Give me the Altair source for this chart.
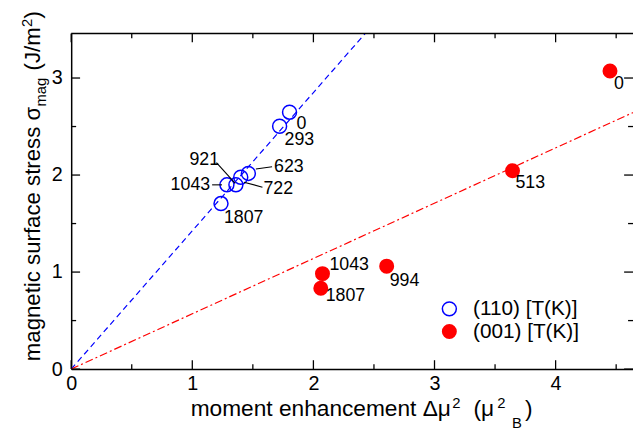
import altair as alt
import pandas as pd

# ---------------- data ----------------
x110 = [1.803, 1.721, 1.463, 1.400, 1.360, 1.286, 1.237]
y110 = [2.648, 2.503, 2.017, 1.977, 1.899, 1.899, 1.706]
t110 = ["0", "293", "623", "722", "921", "1043", "1807"]

x001 = [4.449, 3.644, 2.605, 2.075, 2.061]
y001 = [3.072, 2.045, 1.061, 0.984, 0.834]
t001 = ["0", "513", "994", "1043", "1807"]

fit110_x = [0.0, 2.6]
fit110_y = [0.0, 3.705]
fit001_x = [0.0, 4.7]
fit001_y = [0.0, 2.679]

x_major = [0, 1, 2, 3, 4]
x_minor = [0.5, 1.5, 2.5, 3.5, 4.5]
y_major = [0, 1, 2, 3]
y_minor = [0.5, 1.5, 2.5]

legend_labels = ["(110) [T(K)]", "(001) [T(K)]"]

# ---------------- style / layout ----------------
FONT = "Liberation Sans"
BLUE = "#0000ff"
RED = "#ff0000"
W, H = 569, 340
XMAX, YMAX = 4.639, 3.46
OX, OY = 72, 31  # page position of plot origin

# label offsets (pixels) and alignment
lab110_dx = [7, 5, 26, 23, -17, -17, 3]
lab110_dy = [12, 14, -6, 12, -25, 0, 15]
lab110_right = [False, False, False, False, True, True, False]
lab001_dx = [4, 3, 3, 7, 5]
lab001_dy = [13, 13, 15, -9, 8]
leaders = {  # label: ((dx1, dy1), (dx2, dy2))
    "623": ((7.6, -4.4), (24, -6.7)),
    "722": ((3.3, 5), (22, 10)),
    "921": ((-19.7, -22.6), (-0.7, -1.6)),
    "1043": ((-15, 0), (-5, 0)),
}

xs = alt.Scale(domain=[0, XMAX], nice=False, zero=False)
ys = alt.Scale(domain=[0, YMAX], nice=False, zero=False)
xaxis = alt.Axis(values=x_major, title=None, grid=False, ticks=False, tickSize=0,
                 labelFont=FONT, labelFontSize=20, labelColor="black", labelPadding=5,
                 domainColor="black", domainWidth=1.5, labelFlush=False,
                 labelOverlap=False, format="d")
yaxis = alt.Axis(values=y_major, title=None, grid=False, ticks=False, tickSize=0,
                 labelFont=FONT, labelFontSize=20, labelColor="black", labelPadding=9,
                 domainColor="black", domainWidth=1.5, labelFlush=False,
                 labelOverlap=False, format="d")


def X(f):
    return alt.X(f, type="quantitative", scale=xs, axis=xaxis)


def Y(f):
    return alt.Y(f, type="quantitative", scale=ys, axis=yaxis)


one = pd.DataFrame({"a": [0]})

df110 = pd.DataFrame({"x": x110, "y": y110, "t": t110})
df001 = pd.DataFrame({"x": x001, "y": y001, "t": t001})
fit110 = pd.DataFrame({"x": fit110_x, "y": fit110_y})
fit001 = pd.DataFrame({"x": fit001_x, "y": fit001_y})

layers = []

# fit lines
layers.append(alt.Chart(fit110).mark_line(color=BLUE, strokeWidth=1.2, strokeDash=[6, 4], clip=True)
              .encode(x=X("x"), y=Y("y")))
layers.append(alt.Chart(fit001).mark_line(color=RED, strokeWidth=1.2, strokeDash=[8, 3, 2, 3], clip=True)
              .encode(x=X("x"), y=Y("y")))

# points
layers.append(alt.Chart(df110).mark_point(shape="circle", filled=False, color=BLUE, size=200,
                                          strokeWidth=1.5, opacity=1)
              .encode(x=X("x"), y=Y("y")))
layers.append(alt.Chart(df001).mark_circle(color=RED, size=230, opacity=1)
              .encode(x=X("x"), y=Y("y")))

# leader lines
for lab, ((a, b), (c, d)) in leaders.items():
    i = t110.index(lab)
    dfl = df110.iloc[[i]]
    layers.append(alt.Chart(dfl).mark_rule(color="black", strokeWidth=1.1,
                                           xOffset=a, yOffset=b, x2Offset=c, y2Offset=d)
                  .encode(x=X("x"), y=Y("y"), x2=alt.X2("x"), y2=alt.Y2("y")))

# point labels (one layer per label so each has its own offset)
for i in range(len(t110)):
    layers.append(alt.Chart(df110.iloc[[i]]).mark_text(
        font=FONT, fontSize=18, color="black", baseline="middle",
        align="right" if lab110_right[i] else "left",
        dx=lab110_dx[i], dy=lab110_dy[i])
        .encode(x=X("x"), y=Y("y"), text="t:N"))
for i in range(len(t001)):
    layers.append(alt.Chart(df001.iloc[[i]]).mark_text(
        font=FONT, fontSize=18, color="black", baseline="middle", align="left",
        dx=lab001_dx[i], dy=lab001_dy[i])
        .encode(x=X("x"), y=Y("y"), text="t:N"))


# inward ticks
def xticks(vals, ln):
    d = pd.DataFrame({"v": vals})
    bot = alt.Chart(d).mark_rule(color="black", strokeWidth=1.3).encode(
        x=X("v"), y=alt.value(H), y2=alt.value(H - ln))
    top = alt.Chart(d).mark_rule(color="black", strokeWidth=1.3).encode(
        x=X("v"), y=alt.value(0), y2=alt.value(ln))
    return [bot, top]


def yticks(vals, ln):
    d = pd.DataFrame({"v": vals})
    left = alt.Chart(d).mark_rule(color="black", strokeWidth=1.3).encode(
        y=Y("v"), x=alt.value(0), x2=alt.value(ln))
    right = alt.Chart(d).mark_rule(color="black", strokeWidth=1.3).encode(
        y=Y("v"), x=alt.value(W), x2=alt.value(W - ln))
    return [left, right]


layers += xticks(x_major, 9) + xticks(x_minor, 5) + yticks(y_major, 9) + yticks(y_minor, 5)

# top frame line
layers.append(alt.Chart(one).mark_rule(color="black", strokeWidth=1.5).encode(
    x=alt.value(0), x2=alt.value(W), y=alt.value(0)))


# text helper (page coordinates)
def txt(s, px, py, size, angle=0, baseline="alphabetic"):
    return alt.Chart(one).mark_text(text=s, font=FONT, fontSize=size, align="left",
                                    baseline=baseline, angle=angle, color="black").encode(
        x=alt.value(px - OX), y=alt.value(py - OY))


# x axis title
layers += [
    txt("moment enhancement \u0394\u03bc", 193, 418, 23),
    txt("2", 458, 410, 15),
    txt("(\u03bc", 479.5, 418, 23),
    txt("2", 503.5, 410, 15),
    txt("B", 518.5, 431, 15),
    txt(")", 531.5, 418, 23),
]
# y axis title (rotated)
layers += [
    txt("magnetic surface stress \u03c3", 40, 363, 22.5, angle=270),
    txt("mag", 46, 105, 15, angle=270),
    txt("(J/m", 40, 68.5, 22.5, angle=270),
    txt("2", 32, 24.5, 15, angle=270),
    txt(")", 40, 16, 22.5, angle=270),
]

# legend
layers.append(alt.Chart(one).mark_point(shape="circle", filled=False, color=BLUE, size=200,
                                        strokeWidth=1.5, opacity=1).encode(
    x=alt.value(455 - OX), y=alt.value(310 - OY)))
layers.append(alt.Chart(one).mark_circle(color=RED, size=230, opacity=1).encode(
    x=alt.value(455 - OX), y=alt.value(333 - OY)))
layers.append(txt(legend_labels[0], 479, 310, 21, baseline="middle"))
layers.append(txt(legend_labels[1], 479, 333, 21, baseline="middle"))

chart = alt.layer(*layers).properties(
    width=W, height=H, autosize="none",
    padding={"left": OX - 8, "top": OY - 8, "right": 0, "bottom": 62},
    background="white",
).configure_view(stroke=None)

chart.save("out.html", embed_options={"renderer": "svg", "actions": False})
